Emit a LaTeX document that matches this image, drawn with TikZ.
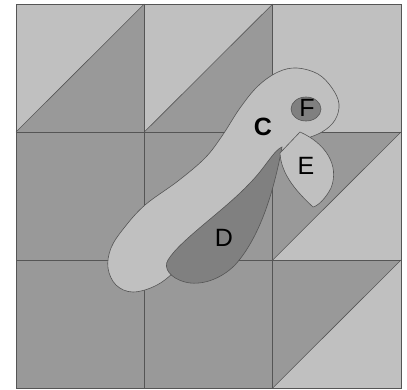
\documentclass[tikz,border=0pt]{standalone}
\usepackage{fontspec}
\setmainfont{Liberation Sans}
\definecolor{lightg}{HTML}{C0C0C0}
\definecolor{darkg}{HTML}{999999}
\definecolor{deepg}{HTML}{808080}
\definecolor{edgeg}{HTML}{555555}
\begin{document}
\begin{tikzpicture}[x=1pt,y=-1pt,
  edge/.style={draw=edgeg,line width=0.6pt},
  lbl/.style={font=\fontsize{25}{30}\selectfont,inner sep=0pt}]
\useasboundingbox (0,0) rectangle (407,389);
% background cells
\fill[darkg] (16,4) rectangle (401,388);
\fill[lightg] (16,4) -- (144.3,4) -- (16,132) -- cycle;
\fill[lightg] (144.3,4) -- (272.7,4) -- (144.3,132) -- cycle;
\fill[lightg] (272.7,4) rectangle (401,132);
\fill[lightg] (401,132) -- (401,260) -- (272.7,260) -- cycle;
\fill[lightg] (401,260) -- (401,388) -- (272.7,388) -- cycle;
% grid
\draw[edgeg,line width=0.6pt] (16,4) rectangle (401,388);
\draw[edgeg,line width=0.6pt] (144.3,4) -- (144.3,388) (272.7,4) -- (272.7,388)
  (16,132) -- (401,132) (16,260) -- (401,260);
\draw[edgeg,line width=0.6pt] (16,132) -- (144.3,4) (144.3,132) -- (272.7,4)
  (272.7,260) -- (401,132) (272.7,388) -- (401,260);
% region C
\path[edge,fill=lightg] plot[smooth cycle,tension=0.6] coordinates {
 (297,68) (318,74) (332,88) (339,104) (335,120) (322,132) (300,141) (284,149)
 (271,166) (240,200) (205,237) (178,268) (157,285) (133,292) (116,285)
 (108,268) (111,248) (124,228) (145,205) (178,181) (205,158) (222,136)
 (240,108) (258,86) (278,72)};
% region D
\path[edge,fill=deepg] (282,147) .. controls (275,185) and (262,235) .. (235,265)
  .. controls (220,280) and (200,286) .. (185,282)
  .. controls (170,278) and (163,268) .. (168,260)
  .. controls (180,240) and (225,210) .. (250,183)
  .. controls (265,168) and (274,150) .. (282,147) -- cycle;
% region E
\path[edge,fill=lightg] (300,132) .. controls (325,143) and (340,165) .. (331,188)
  .. controls (326,198) and (318,206) .. (313,207)
  .. controls (298,193) and (281,175) .. (280,153) -- cycle;
% region F
\path[edge,fill=deepg] (306,109) ellipse [x radius=15,y radius=12];
% labels
\node[lbl,font=\fontsize{25}{30}\selectfont\bfseries] (c) at (263,127) {C};
\node[lbl] (d) at (224,238) {D};
\node[lbl] (e) at (306,166) {E};
\node[lbl] (f) at (307,108) {F};
\end{tikzpicture}
\end{document}
